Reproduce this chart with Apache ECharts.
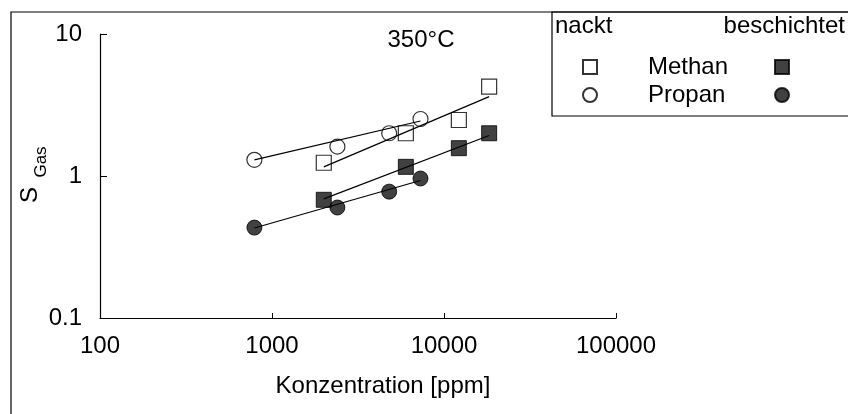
<!DOCTYPE html>
<html>
<head>
<meta charset="utf-8">
<script src="https://cdn.jsdelivr.net/npm/echarts@6/dist/echarts.min.js"></script>
<style>html,body{margin:0;padding:0;background:#fff}#c{width:848px;height:414px}</style>
</head>
<body>
<div id="c"></div>
<script>
// ---- data ----
const methanConc = [2000, 6000, 12200, 18300];
const methanNackt = [1.24, 2.0, 2.48, 4.26];
const methanBeschichtet = [0.68, 1.16, 1.57, 2.0];
const propanConc = [790, 2400, 4800, 7300];
const propanNackt = [1.30, 1.61, 2.0, 2.52];
const propanBeschichtet = [0.433, 0.60, 0.776, 0.96];
// fitted lines (end points)
const methanFitConc = [2000, 18300];
const methanNacktFit = [1.16, 3.62];
const methanBeschFit = [0.69, 1.93];
const propanFitConc = [790, 7300];
const propanNacktFit = [1.30, 2.44];
const propanBeschFit = [0.43, 0.93];
// tick labels
const xTickLabels = ['100', '1000', '10000', '100000'];
const yTickLabels = ['0.1', '1', '10'];

const FONT = "'Liberation Sans', Arial, Helvetica, sans-serif";
const pairs = (xs, ys) => xs.map((x, i) => [x, ys[i]]);
const fill = '#111';

const chart = echarts.init(document.getElementById('c'), null, {renderer: 'canvas'});

const scatterBase = {type: 'scatter', symbolSize: 15, z: 2};
const fitBase = {type: 'line', symbol: 'none', silent: true, z: 3,
  lineStyle: {color: '#000', width: 1.2}};

chart.setOption({
  animation: false,
  backgroundColor: '#fff',
  grid: {left: 100, top: 34, width: 516, height: 284},
  xAxis: {
    type: 'log', logBase: 10, min: 100, max: 100000,
    axisLine: {lineStyle: {color: '#000', width: 1.2}},
    axisTick: {inside: true, length: 5, lineStyle: {color: '#000'}},
    splitLine: {show: false},
    axisLabel: {
      fontFamily: FONT, fontSize: 24, color: '#000', margin: 16,
      formatter: v => xTickLabels[Math.round(Math.log10(v)) - 2]
    },
    name: 'Konzentration [ppm]', nameLocation: 'middle', nameGap: 56,
    nameTextStyle: {fontFamily: FONT, fontSize: 24, color: '#000', padding: [0, 0, 0, 50]}
  },
  yAxis: {
    type: 'log', logBase: 10, min: 0.1, max: 10,
    axisLine: {lineStyle: {color: '#000', width: 1.2}},
    axisTick: {inside: true, length: 7, lineStyle: {color: '#000'}},
    splitLine: {show: false},
    axisLabel: {
      fontFamily: FONT, fontSize: 24, color: '#000', margin: 18,
      formatter: v => yTickLabels[Math.round(Math.log10(v)) + 1]
    }
  },
  legend: [
    {
      data: ['Methan nackt', 'Propan nackt'],
      orient: 'vertical', left: 582, top: 55, padding: 0, itemGap: 4,
      itemWidth: 14, itemHeight: 14, selectedMode: false,
      formatter: n => n.split(' ')[0],
      textStyle: {fontFamily: FONT, fontSize: 24, lineHeight: 24, color: '#000',
        padding: [0, 0, 0, 46]}
    },
    {
      data: ['Methan beschichtet', 'Propan beschichtet'],
      orient: 'vertical', left: 774, top: 55, padding: 0, itemGap: 4,
      itemWidth: 14, itemHeight: 14, selectedMode: false,
      formatter: () => ' ',
      textStyle: {fontFamily: FONT, fontSize: 24, lineHeight: 24, color: '#000'}
    }
  ],
  graphic: [
    {type: 'rect', shape: {x: 11, y: 12, width: 900, height: 500},
      style: {fill: 'none', stroke: '#000', lineWidth: 1.2}, silent: true},
    {type: 'rect', shape: {x: 552, y: 12, width: 400, height: 104},
      style: {fill: 'none', stroke: '#000', lineWidth: 1.2}, silent: true},
    {type: 'text', left: 555, top: 14,
      style: {text: 'nackt', fontFamily: FONT, fontSize: 24, fill: '#000'}},
    {type: 'text', right: 3, top: 14,
      style: {text: 'beschichtet', fontFamily: FONT, fontSize: 24, fill: '#000'}},
    {type: 'text', x: 421, y: 40,
      style: {text: '350°C', fontFamily: FONT, fontSize: 24, fill: '#000',
        align: 'center', verticalAlign: 'middle'}},
    {type: 'text', x: 30.5, y: 195, rotation: Math.PI / 2,
      style: {text: 'S', fontFamily: FONT, fontSize: 24, fill: '#000',
        align: 'center', verticalAlign: 'middle'}},
    {type: 'text', x: 41, y: 162, rotation: Math.PI / 2,
      style: {text: 'Gas', fontFamily: FONT, fontSize: 17, fill: '#000',
        align: 'center', verticalAlign: 'middle'}}
  ],
  series: [
    Object.assign({}, scatterBase, {name: 'Methan nackt', symbol: 'rect',
      data: pairs(methanConc, methanNackt),
      itemStyle: {color: '#fff', borderColor: '#000', borderWidth: 1.2}}),
    Object.assign({}, scatterBase, {name: 'Propan nackt', symbol: 'circle',
      data: pairs(propanConc, propanNackt),
      itemStyle: {color: '#fff', borderColor: '#000', borderWidth: 1.2}}),
    Object.assign({}, scatterBase, {name: 'Methan beschichtet', symbol: 'rect',
      data: pairs(methanConc, methanBeschichtet),
      itemStyle: {color: fill, borderColor: '#000', borderWidth: 1}}),
    Object.assign({}, scatterBase, {name: 'Propan beschichtet', symbol: 'circle',
      data: pairs(propanConc, propanBeschichtet),
      itemStyle: {color: fill, borderColor: '#000', borderWidth: 1}}),
    Object.assign({}, fitBase, {name: 'fit Methan nackt', data: pairs(methanFitConc, methanNacktFit)}),
    Object.assign({}, fitBase, {name: 'fit Methan beschichtet', data: pairs(methanFitConc, methanBeschFit)}),
    Object.assign({}, fitBase, {name: 'fit Propan nackt', data: pairs(propanFitConc, propanNacktFit)}),
    Object.assign({}, fitBase, {name: 'fit Propan beschichtet', data: pairs(propanFitConc, propanBeschFit)})
  ]
});
</script>
</body>
</html>
